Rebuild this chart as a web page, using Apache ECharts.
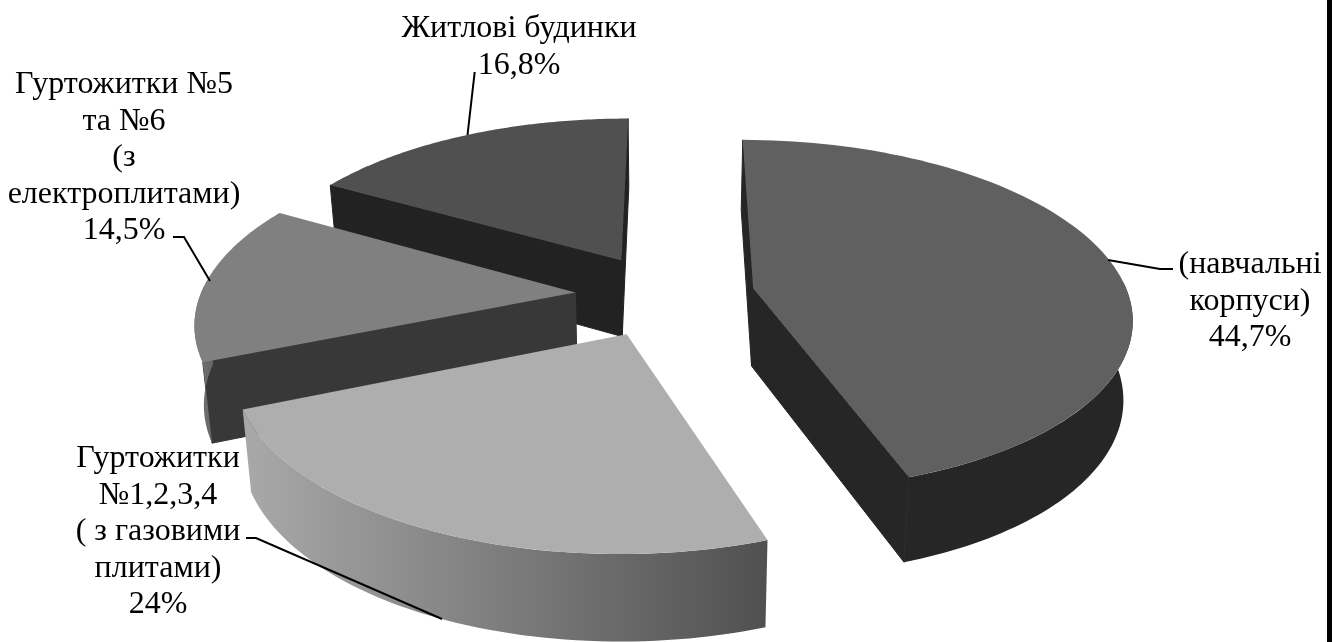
<!DOCTYPE html>
<html>
<head>
<meta charset="utf-8">
<style>html,body{margin:0;padding:0;background:#fff}#chart{width:1334px;height:642px}</style>
<script src="https://cdn.jsdelivr.net/npm/echarts@6/dist/echarts.min.js"></script>
</head>
<body>
<div id="chart"></div>
<script>
// Electricity consumption shares by building group
const categories = [
  '(навчальні\nкорпуси)',
  'Гуртожитки\n№1,2,3,4\n( з газовими\nплитами)',
  'Гуртожитки №5\nта №6\n(з\nелектроплитами)',
  'Житлові будинки'
];
const shares = [44.7, 24, 14.5, 16.8];

// Per-slice look
const topColors = ['#606060', '#aeaeae', '#808080', '#505050'];
const faceColors = ['#262626', '#555555', '#383838', '#222222'];
const rimColors = [['#262626', '#262626'], ['#a9a9a9', '#505050'], ['#767676', '#666666'], ['#333333', '#333333']];

// Label placement (centre of the first line) and leader lines, in page pixels
const labelCentres = [[1250, 265], [158, 459], [124, 85], [519, 29]];
const labelLineHeight = 36.4;
const leaders = [
  [[1108, 260], [1160, 269], [1173, 269]],
  [[246, 538], [256, 538], [442, 619]],
  [[173, 237], [184, 237], [210, 281]],
  [[467.5, 135], [474.7, 72]]
];

// Pie geometry: a flat disc seen from above with perspective
const geo = {
  cx: 665, cy: 295, rx: 375, ry: 173, focal: 6.55,
  explode: 0.24, depth: 78, depthGrowth: 0.1, bottomShrink: 0.98,
  startAngle: 0.2
};

function project(X, Y, lower) {
  const s = geo.focal / (geo.focal + Y);
  let x = geo.cx + geo.rx * X * s;
  let y = geo.cy - geo.ry * Y * s;
  if (lower) {
    x = geo.cx + (x - geo.cx) * geo.bottomShrink;
    y += geo.depth * (1 - geo.depthGrowth * Y);
  }
  return [x, y];
}

const total = shares.reduce((a, b) => a + b, 0);
const rad = d => d * Math.PI / 180;

function sliceChildren(index, value, startDeg) {
  const sweep = value / total * 360;
  const endDeg = startDeg + sweep;
  const mid = rad(startDeg + sweep / 2);
  const ox = geo.explode * Math.sin(mid);
  const oy = geo.explode * Math.cos(mid);
  const rimPoint = (deg, lower) => project(ox + Math.sin(rad(deg)), oy + Math.cos(rad(deg)), lower);
  const apex = lower => project(ox, oy, lower);
  const order = Math.round((2 - Math.cos(mid)) * 10);
  const children = [];

  const face = (deg, color) => children.push({
    type: 'polygon', z2: order,
    shape: { points: [apex(false), rimPoint(deg, false), rimPoint(deg, true), apex(true)] },
    style: { fill: color, stroke: color, lineWidth: 1 }
  });
  const facing = deg => {
    const a = apex(false), b = rimPoint(deg, false), c = rimPoint(deg, true);
    return (b[0] - a[0]) * (c[1] - b[1]) - (b[1] - a[1]) * (c[0] - b[0]);
  };
  if (facing(startDeg) < 0) face(startDeg, faceColors[index]);
  if (facing(endDeg) > 0) face(endDeg, faceColors[index]);

  // Outer wall, only the part turned toward the viewer
  const rimFrom = Math.max(startDeg, 88), rimTo = Math.min(endDeg, 272);
  if (rimTo > rimFrom) {
    const upper = [], lower = [];
    for (let k = 0; k <= 60; k++) {
      const d = rimFrom + (rimTo - rimFrom) * k / 60;
      upper.push(rimPoint(d, false));
      lower.unshift(rimPoint(d, true));
    }
    // Shade runs left to right across the wall; the first stop is on the left
    const stops = rimColors[index];
    children.push({
      type: 'polygon', z2: order + 1,
      shape: { points: upper.concat(lower) },
      style: {
        fill: new echarts.graphic.LinearGradient(0, 0, 1, 0, [
          { offset: 0, color: stops[0] }, { offset: 1, color: stops[1] }
        ])
      }
    });
  }

  // Top surface
  const topPts = [apex(false)];
  for (let k = 0; k <= 90; k++) topPts.push(rimPoint(startDeg + sweep * k / 90, false));
  children.push({
    type: 'polygon', z2: order + 2,
    shape: { points: topPts },
    style: { fill: topColors[index] }
  });

  // Leader line and label
  children.push({
    type: 'polyline', z2: 100,
    shape: { points: leaders[index] },
    style: { stroke: '#000', lineWidth: 2, fill: null }
  });
  children.push({
    type: 'text', z2: 101,
    x: labelCentres[index][0], y: labelCentres[index][1] - labelLineHeight / 2,
    style: {
      text: categories[index] + '\n' + String(value).replace('.', ',') + '%',
      font: '32px "Liberation Serif"',
      lineHeight: labelLineHeight,
      fill: '#000',
      textAlign: 'center',
      textVerticalAlign: 'top'
    }
  });
  return children;
}

const chart = echarts.init(document.getElementById('chart'), null, { renderer: 'canvas' });
chart.setOption({
  animation: false,
  backgroundColor: '#ffffff',
  graphic: [{ type: 'rect', shape: { x: 1327, y: 0, width: 5, height: 642 }, style: { fill: '#000' } }],
  series: [{
    type: 'custom',
    coordinateSystem: 'none',
    silent: true,
    data: shares.map((v, i) => ({ name: categories[i], value: [v] })),
    renderItem(params, api) {
      const i = params.dataIndex;
      const before = shares.slice(0, i).reduce((a, b) => a + b, 0);
      const start = geo.startAngle + before / total * 360;
      return { type: 'group', children: sliceChildren(i, api.value(0), start) };
    }
  }]
});
</script>
</body>
</html>
